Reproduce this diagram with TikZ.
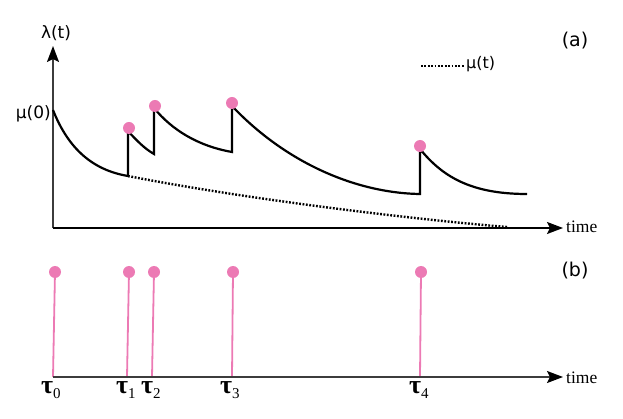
\documentclass[tikz,border=0pt]{standalone}
\usepackage{fontspec}
\setmainfont{Liberation Serif}
\newfontfamily\dejafont{DejaVu Sans}
\usetikzlibrary{arrows.meta}
\definecolor{evpink}{RGB}{236,122,180}
\definecolor{axisgray}{RGB}{60,60,60}
\tikzset{
  axisline/.style={line width=1.8pt, draw=axisgray, -{Stealth[length=16pt,width=12pt,inset=3pt,color=black]}},
  curveline/.style={line width=2.2pt, black},
  baseline/.style={line width=2.4pt, black, dash pattern=on 1.8pt off 1.6pt},
  evdot/.style={circle, fill=evpink, inner sep=0pt, minimum size=12pt},
  stem/.style={line width=1.8pt, evpink},
  sanslabel/.style={font=\dejafont\fontsize{17}{19}\selectfont, inner sep=0pt},
  timelabel/.style={font=\fontsize{17.5}{19}\selectfont, inner sep=0pt, anchor=base west},
  taulabel/.style={font=\fontsize{26}{28}\selectfont, inner sep=0pt, anchor=base west}
}
\newcommand{\tausub}[1]{\textbf{τ}\raisebox{-5pt}{\fontsize{15}{16}\selectfont #1}}
\begin{document}
\begin{tikzpicture}[x=1pt,y=-1pt]
\useasboundingbox (0,0) rectangle (623,419);
% top axes
\coordinate (O1) at (53,228);
\coordinate (Ytop) at (53,46);
\coordinate (X1end) at (563,228);
\draw[axisline] (O1) -- (Ytop);
\draw[axisline, draw=black] (O1) -- (X1end);
\node[sanslabel] (lam) at (56,33) {λ(t)};
\node[sanslabel, anchor=east] (mu0) at (51,114) {μ(0)};
\node[timelabel] (time1) at (566,233) {time};
\node[sanslabel, font=\dejafont\fontsize{19}{21}\selectfont] (la) at (575,41) {(a)};
% legend
\coordinate (Lg1) at (421,66);
\coordinate (Lg2) at (465,66);
\draw[baseline] (Lg1) -- (Lg2);
\node[sanslabel, anchor=west, font=\dejafont\fontsize{16}{18}\selectfont] (mut) at (466,64) {μ(t)};
% intensity curve
\coordinate (S0) at (53,110);
\coordinate (A1) at (128,176);
\coordinate (B1) at (128,131);
\coordinate (A2) at (154,154);
\coordinate (B2) at (154,108);
\coordinate (A3) at (232,152);
\coordinate (B3) at (232,106);
\coordinate (A4) at (420,194);
\coordinate (B4) at (420,149);
\coordinate (E) at (527,194);
\draw[curveline, line join=miter]
  (S0) .. controls (68,148) and (92,170) .. (A1) -- (B1)
  .. controls (136,140) and (145,149) .. (A2) -- (B2)
  .. controls (172,130) and (198,146) .. (A3) -- (B3)
  .. controls (285,162) and (355,193) .. (A4) -- (B4)
  .. controls (442,176) and (470,194) .. (E);
\coordinate (Bend) at (507,227);
\draw[baseline] (A1) .. controls (250,200) and (420,220) .. (Bend);
\node[evdot] (d1) at (129,128) {};
\node[evdot] (d2) at (155,106) {};
\node[evdot] (d3) at (232,103) {};
\node[evdot] (d4) at (420,146) {};
% bottom axis
\coordinate (O2) at (53,377);
\coordinate (X2end) at (563,377);
\coordinate (t0) at (53,377);
\coordinate (t1) at (127,377);
\coordinate (t2) at (152,377);
\coordinate (t3) at (232,377);
\coordinate (t4) at (420,377);
\node[evdot] (e0) at (55,272) {};
\node[evdot] (e1) at (129,272) {};
\node[evdot] (e2) at (154,272) {};
\node[evdot] (e3) at (233,272) {};
\node[evdot] (e4) at (421,272) {};
\draw[stem] (t0) -- (e0.center);
\draw[stem] (t1) -- (e1.center);
\draw[stem] (t2) -- (e2.center);
\draw[stem] (t3) -- (e3.center);
\draw[stem] (t4) -- (e4.center);
\draw[axisline] (O2) -- (X2end);
\node[timelabel] (time2) at (566,383) {time};
\node[sanslabel, font=\dejafont\fontsize{19}{21}\selectfont] (lb) at (575,271) {(b)};
\node[taulabel] (tau0) at (41,393) {\tausub{0}};
\node[taulabel] (tau1) at (116,393) {\tausub{1}};
\node[taulabel] (tau2) at (141,393) {\tausub{2}};
\node[taulabel] (tau3) at (220,393) {\tausub{3}};
\node[taulabel] (tau4) at (409,393) {\tausub{4}};
\end{tikzpicture}
\end{document}
